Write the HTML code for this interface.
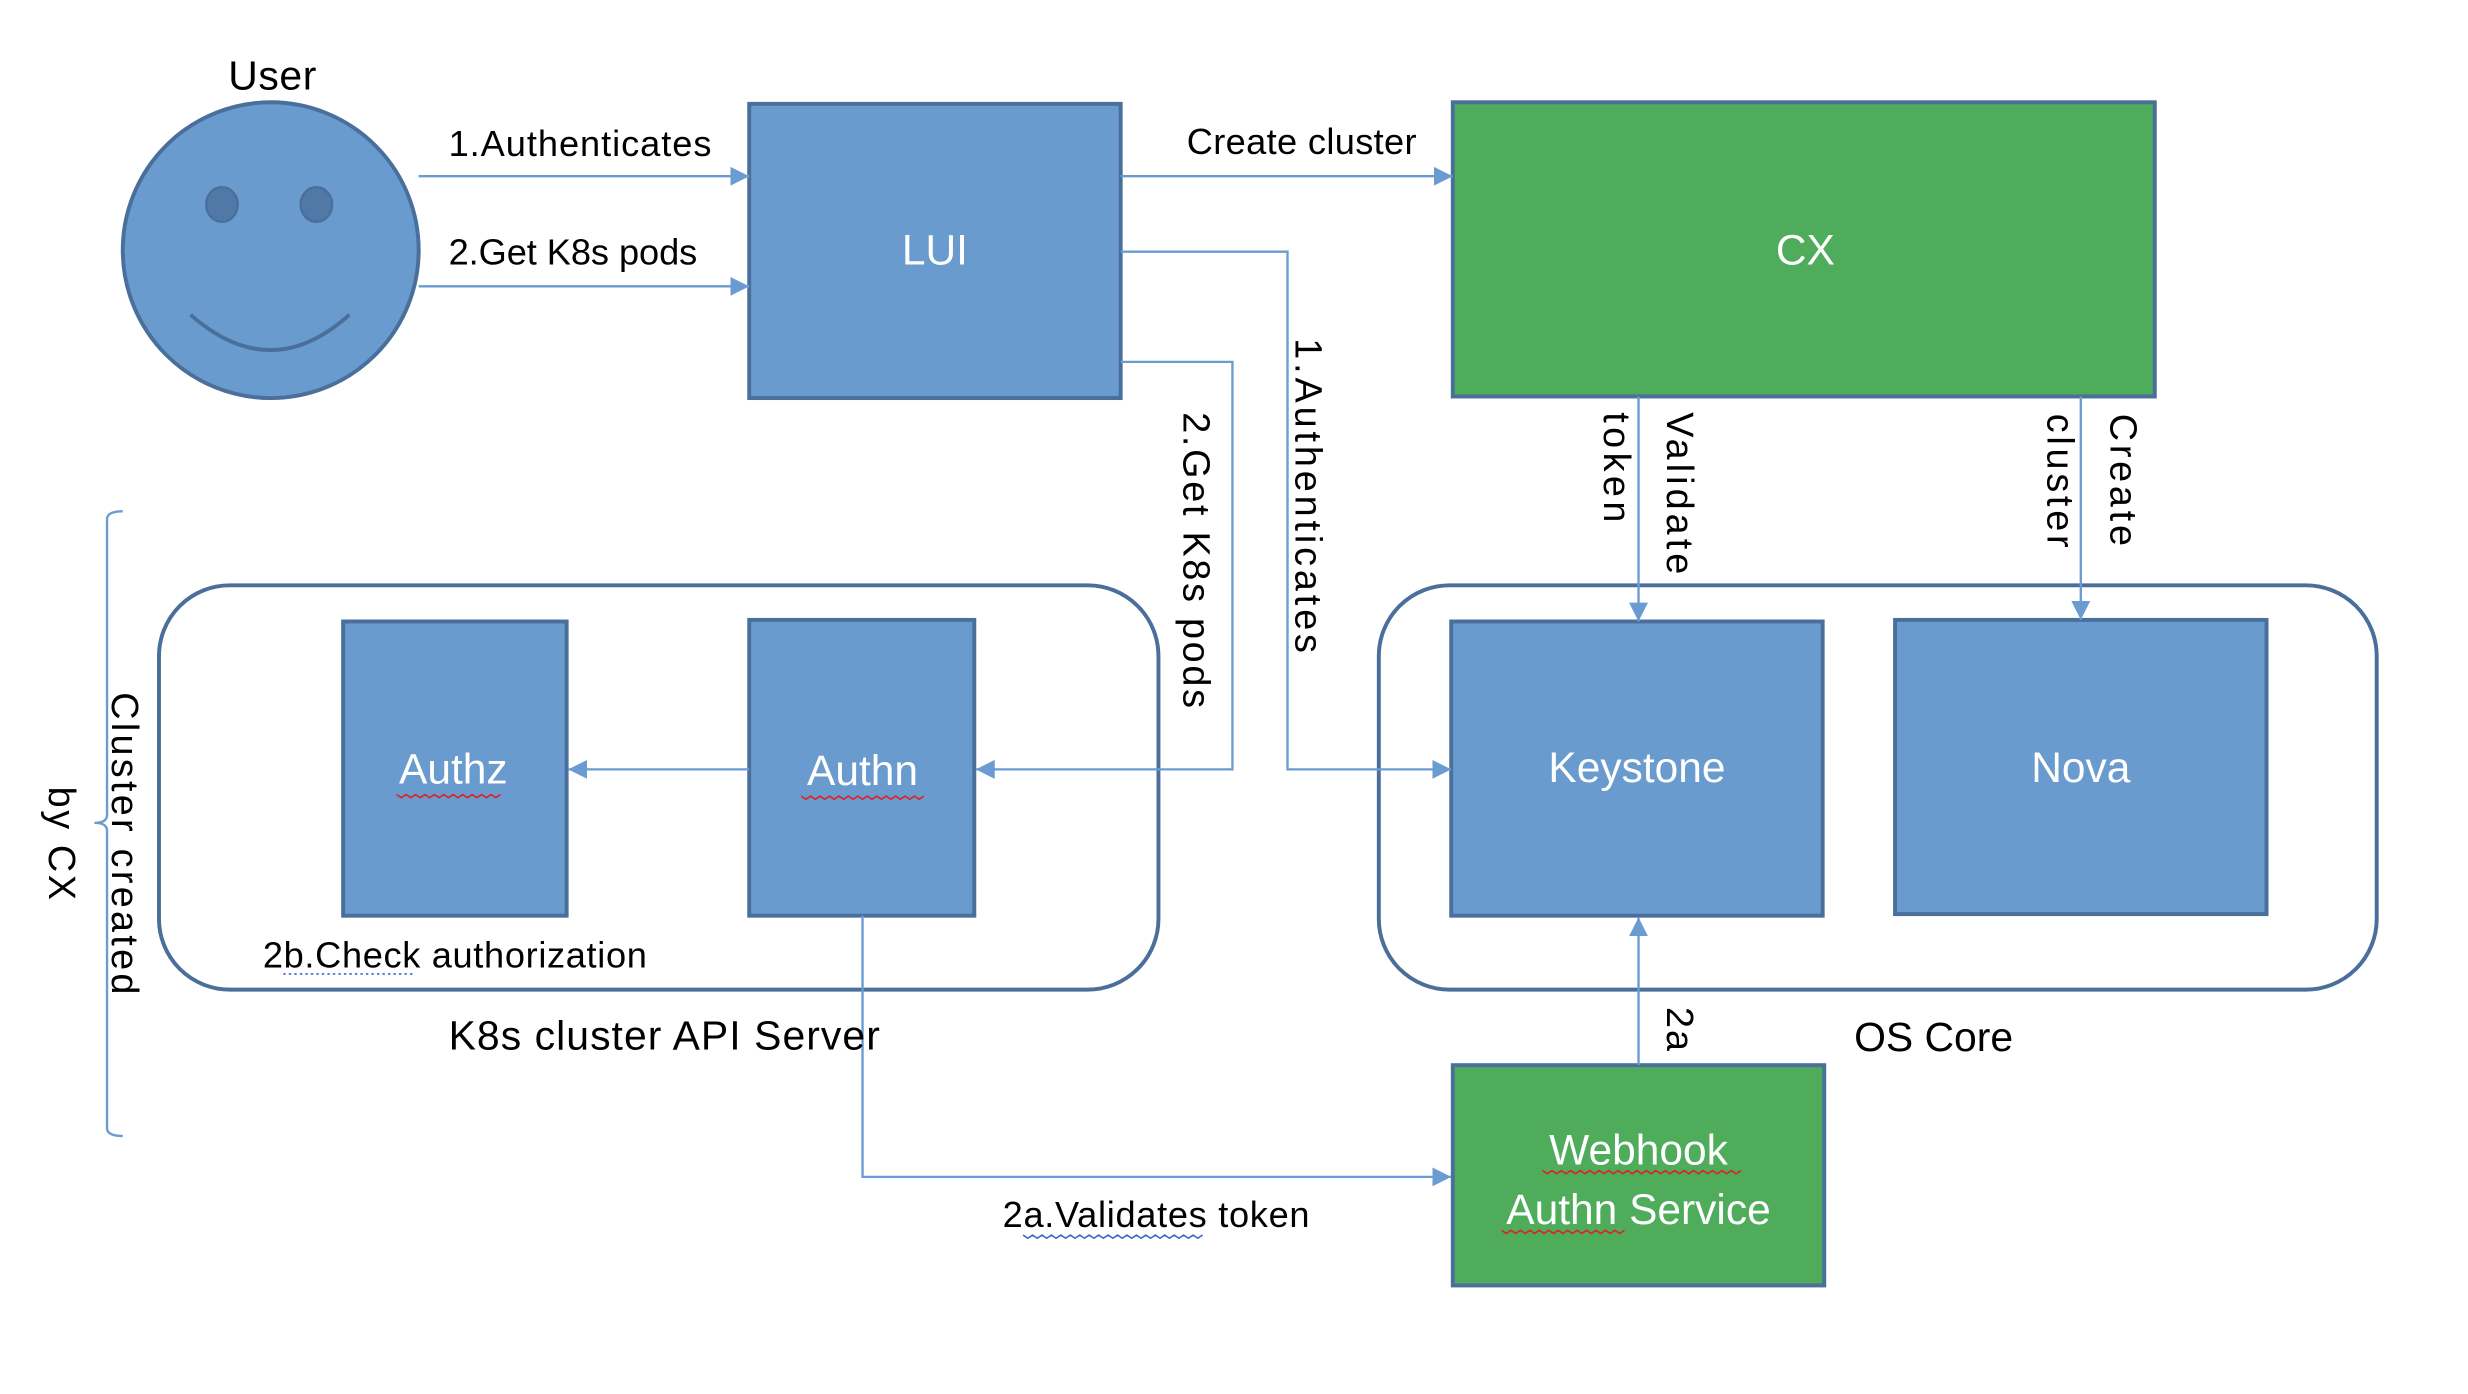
<!DOCTYPE html>
<html><head><meta charset="utf-8"><style>
html,body{margin:0;padding:0;background:#fff;}
svg{display:block;}
text{font-family:"Liberation Sans",sans-serif;}
.r{font-family:"DejaVu Sans","Liberation Sans",sans-serif;}
</style></head><body>
<svg width="2468" height="1394" viewBox="0 0 1568 886" preserveAspectRatio="none" xmlns="http://www.w3.org/2000/svg">
<defs>
<marker id="a" viewBox="0 0 10 10" refX="10" refY="5" markerWidth="12" markerHeight="14" markerUnits="userSpaceOnUse" orient="auto">
<path d="M0,0 L10,5 L0,10 z" fill="#6a9bd1"/></marker>
</defs>
<g stroke="#4a6f9b" stroke-width="2.5" fill="#6a9bcf">
<ellipse cx="172" cy="159" rx="94" ry="94"/>
<rect x="476" y="66" width="236" height="187"/>
<rect x="923" y="65" width="446" height="187" fill="#4eac5b"/>
<rect x="101" y="372" width="635" height="257" rx="45" fill="none"/>
<rect x="876" y="372" width="634" height="257" rx="45" fill="none"/>
<rect x="218" y="395" width="142" height="187"/>
<rect x="476" y="394" width="143" height="188"/>
<rect x="922" y="395" width="236" height="187"/>
<rect x="1204" y="394" width="236" height="187"/>
<rect x="923" y="677" width="236" height="140" fill="#4eac5b"/>
</g>
<g fill="#5079a8" stroke="#4a6f9b" stroke-width="1.5">
<ellipse cx="141" cy="130" rx="10" ry="11"/><ellipse cx="201" cy="130" rx="10" ry="11"/>
</g>
<path d="M121,200 Q172,245 222,200" fill="none" stroke="#4a6f9b" stroke-width="2.5"/>
<g stroke="#6a9bd1" stroke-width="1.5" fill="none" marker-end="url(#a)">
<path d="M266,112 H476"/>
<path d="M266,182 H476"/>
<path d="M712,112 H923"/>
<path d="M712,160 H818 V489 H922"/>
<path d="M712,230 H783 V489 H620"/>
<path d="M476,489 H361"/>
<path d="M1041,252 V395"/>
<path d="M1322,252 V394"/>
<path d="M548,582 V748 H922"/>
<path d="M1041,677 V583"/>
</g>
<path d="M78,325 Q68,325 68,330 V518 Q68,523 60,523 Q68,523 68,528 V717 Q68,722 78,722" fill="none" stroke="#6a9bd1" stroke-width="1.5"/>
<g font-size="26" fill="#000">
<text x="145" y="57" textLength="56">User</text>
<text x="285" y="99" font-size="23" textLength="167">1.Authenticates</text>
<text x="285" y="168" font-size="23" textLength="158">2.Get K8s pods</text>
<text x="754" y="98" font-size="23" textLength="146">Create cluster</text>
<text x="167" y="615" font-size="23" textLength="244">2b.Check authorization</text>
<text x="285" y="667" textLength="274">K8s cluster API Server</text>
<text x="1178" y="668" textLength="101">OS Core</text>
<text x="637" y="780" font-size="23" textLength="195">2a.Validates token</text>
</g>
<g font-size="27" fill="#fff" text-anchor="middle">
<text x="594" y="168">LUI</text>
<text x="1147" y="168">CX</text>
<text x="288" y="498">Authz</text>
<text x="548" y="499">Authn</text>
<text x="1040" y="497">Keystone</text>
<text x="1322" y="497">Nova</text>
<text x="1041" y="740">Webhook</text>
<text x="1041" y="778">Authn Service</text>
</g>
<g class="r" font-size="24" fill="#000">
<text transform="translate(823,215) rotate(90)" textLength="200">1.Authenticates</text>
<text transform="translate(752,262) rotate(90)" textLength="188">2.Get K8s pods</text>
<text transform="translate(1059,262) rotate(90)" textLength="103">Validate</text>
<text transform="translate(1019,262) rotate(90)" textLength="70">token</text>
<text transform="translate(1341,263) rotate(90)" textLength="84">Create</text>
<text transform="translate(1301,263) rotate(90)" textLength="85">cluster</text>
<text transform="translate(1059,640) rotate(90)" textLength="28">2a</text>
<text transform="translate(71,440) rotate(90)" textLength="192">Cluster created</text>
<text transform="translate(31,500) rotate(90)" textLength="72">by CX</text>
</g>
<g fill="none" stroke-width="1">
<path d="M252,505 l3,2 3,-2 3,2 3,-2 3,2 3,-2 3,2 3,-2 3,2 3,-2 3,2 3,-2 3,2 3,-2 3,2 3,-2 3,2 3,-2 3,2 3,-2 3,2 3,-2" stroke="#d22"/>
<path d="M509,506 l3,2 3,-2 3,2 3,-2 3,2 3,-2 3,2 3,-2 3,2 3,-2 3,2 3,-2 3,2 3,-2 3,2 3,-2 3,2 3,-2 3,2 3,-2 3,2 3,-2 3,2 3,-2 3,2 3,-2" stroke="#d22"/>
<path d="M980,744 l3,2 3,-2 3,2 3,-2 3,2 3,-2 3,2 3,-2 3,2 3,-2 3,2 3,-2 3,2 3,-2 3,2 3,-2 3,2 3,-2 3,2 3,-2 3,2 3,-2 3,2 3,-2 3,2 3,-2 3,2 3,-2 3,2 3,-2 3,2 3,-2 3,2 3,-2 3,2 3,-2 3,2 3,-2 3,2 3,-2 3,2 3,-2" stroke="#d22"/>
<path d="M954,782 l3,2 3,-2 3,2 3,-2 3,2 3,-2 3,2 3,-2 3,2 3,-2 3,2 3,-2 3,2 3,-2 3,2 3,-2 3,2 3,-2 3,2 3,-2 3,2 3,-2 3,2 3,-2 3,2 3,-2" stroke="#d22"/>
<path d="M180,619 H262" stroke="#36c" stroke-dasharray="1.5,2"/>
<path d="M650,785 l3,2 3,-2 3,2 3,-2 3,2 3,-2 3,2 3,-2 3,2 3,-2 3,2 3,-2 3,2 3,-2 3,2 3,-2 3,2 3,-2 3,2 3,-2 3,2 3,-2 3,2 3,-2 3,2 3,-2 3,2 3,-2 3,2 3,-2 3,2 3,-2 3,2 3,-2 3,2 3,-2 3,2 3,-2" stroke="#36c"/>
</g>
</svg>
</body></html>
